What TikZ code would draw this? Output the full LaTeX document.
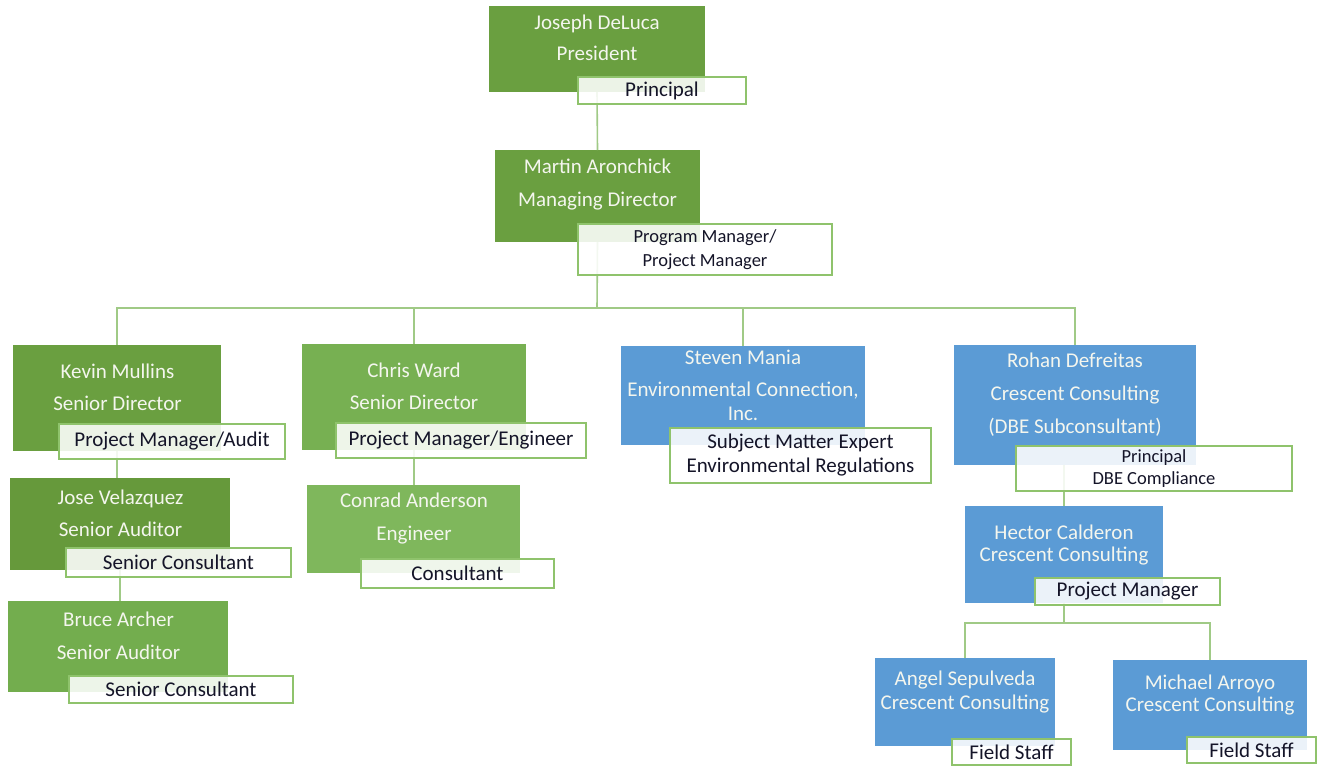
\documentclass[tikz,border=0pt]{standalone}
\usepackage{fontspec}
\setmainfont{Carlito}
\definecolor{gA}{HTML}{6A9F40}
\definecolor{gB}{HTML}{66993B}
\definecolor{gC}{HTML}{73AD4E}
\definecolor{gD}{HTML}{77B052}
\definecolor{gE}{HTML}{7FB75C}
\definecolor{bA}{HTML}{5B9BD5}
\definecolor{lineC}{HTML}{A0CA86}
\definecolor{labC}{HTML}{8FC36C}
\definecolor{boxT}{HTML}{F4F6EE}
\definecolor{labT}{HTML}{141428}
\begin{document}
\begin{tikzpicture}[x=1pt,y=-1pt,
  box/.style={rectangle, draw=none, inner sep=0pt, outer sep=0pt},
  lab/.style={rectangle, draw=labC, line width=1.6pt, fill=white, fill opacity=0.88, text opacity=1, inner sep=0pt, outer sep=0pt, text=labT, align=center, font=\fontsize{21}{24}\selectfont},
  btxt/.style={text=boxT, align=center, inner sep=0pt},
  conn/.style={draw=lineC, line width=1.6pt}]
\useasboundingbox (0,0) rectangle (1319,766);
\fill[white] (0,0) rectangle (1319,766);

% boxes
\node[box, fill=gA, minimum width=216, minimum height=86] (jd) at (597,49) {};
\node[box, fill=gA, minimum width=205, minimum height=92] (ma) at (597.5,196) {};
\node[box, fill=gA, minimum width=208, minimum height=106] (km) at (117,398) {};
\node[box, fill=gB, minimum width=220, minimum height=92] (jv) at (120,524) {};
\node[box, fill=gC, minimum width=220, minimum height=91] (ba) at (118,646.5) {};
\node[box, fill=gD, minimum width=224, minimum height=106] (cw) at (414,397) {};
\node[box, fill=gE, minimum width=213, minimum height=88] (ca) at (413.5,529) {};
\node[box, fill=bA, minimum width=244, minimum height=99] (sm) at (743,395.5) {};
\node[box, fill=bA, minimum width=242, minimum height=120] (rd) at (1075,405) {};
\node[box, fill=bA, minimum width=198, minimum height=97] (hc) at (1064,554.5) {};
\node[box, fill=bA, minimum width=180, minimum height=88] (as) at (965,702) {};
\node[box, fill=bA, minimum width=194, minimum height=90] (mar) at (1210,705) {};

% connectors
\coordinate (bus) at (597,308);
\coordinate (hbus) at (1064,623);
\draw[conn] (jd.south) -- (ma.north);
\draw[conn] (ma.south) -- (bus);
\draw[conn] (bus) -| (km.north);
\draw[conn] (bus) -| (cw.north);
\draw[conn] (bus) -| (sm.north);
\draw[conn] (bus) -| (rd.north);
\draw[conn] (km.south) -- (km.south |- jv.north);
\draw[conn] (jv.south) -- (jv.south |- ba.north);
\draw[conn] (cw.south) -- (cw.south |- ca.north);
\draw[conn] (hc.north |- rd.south) -- (hc.north);
\draw[conn] (hc.south) -- (hbus);
\draw[conn] (hbus) -| (as.north);
\draw[conn] (hbus) -| (mar.north);

% box texts
\node[btxt, font=\fontsize{21}{31}\selectfont] (jdt) at (597,37.5) {Joseph DeLuca\\President};
\node[btxt, font=\fontsize{21}{33}\selectfont] (mat) at (597.5,184.5) {Martin Aronchick\\Managing Director};
\node[btxt, font=\fontsize{21}{32}\selectfont] (kmt) at (117.5,387) {Kevin Mullins\\Senior Director};
\node[btxt, font=\fontsize{21}{32}\selectfont] (jvt) at (120.5,513) {Jose Velazquez\\Senior Auditor};
\node[btxt, font=\fontsize{21}{33}\selectfont] (bat) at (118.5,635.5) {Bruce Archer\\Senior Auditor};
\node[btxt, font=\fontsize{21}{32}\selectfont] (cwt) at (414,386) {Chris Ward\\Senior Director};
\node[btxt, font=\fontsize{21}{33}\selectfont] (cat) at (414,518.5) {Conrad Anderson\\Engineer};
\node[btxt, font=\fontsize{21}{28}\selectfont] (smt) at (743,385) {Steven Mania\\[4pt]Environmental Connection,\\[-4pt]Inc.};
\node[btxt, font=\fontsize{21}{33}\selectfont] (rdt) at (1075,395) {Rohan Defreitas\\Crescent Consulting\\(DBE Subconsultant)};
\node[btxt, font=\fontsize{21}{22}\selectfont] (hct) at (1064,545) {Hector Calderon\\Crescent Consulting};
\node[btxt, font=\fontsize{21}{24}\selectfont] (ast) at (965,692) {Angel Sepulveda\\Crescent Consulting};
\node[btxt, font=\fontsize{21}{22}\selectfont] (mart) at (1210,695) {Michael Arroyo\\Crescent Consulting};

% role labels
\node[lab, minimum width=168, minimum height=27] (jdl) at (662,90.5) {Principal};
\node[lab, minimum width=254, minimum height=51, font=\fontsize{18.5}{24}\selectfont] (mal) at (705,249.5) {Program Manager/\\Project Manager};
\node[lab, minimum width=226, minimum height=35] (kml) at (172,441.5) {Project Manager/Audit};
\node[lab, minimum width=225, minimum height=29] (jvl) at (178.5,562.5) {Senior Consultant};
\node[lab, minimum width=224, minimum height=27] (bal) at (181,689.5) {Senior Consultant};
\node[lab, minimum width=250, minimum height=35] (cwl) at (461,440.5) {Project Manager/Engineer};
\node[lab, minimum width=193, minimum height=29] (cal) at (457.5,573.5) {Consultant};
\node[lab, minimum width=261, minimum height=55] (sml) at (800.5,455.5) {Subject Matter Expert\\Environmental Regulations};
\node[lab, minimum width=276, minimum height=45, font=\fontsize{18.5}{22}\selectfont] (rdl) at (1154,468.5) {Principal\\DBE Compliance};
\node[lab, minimum width=185, minimum height=27] (hcl) at (1127.5,591.5) {Project Manager};
\node[lab, minimum width=119, minimum height=26] (asl) at (1011.5,752) {Field Staff};
\node[lab, minimum width=129, minimum height=26] (marl) at (1251.5,750) {Field Staff};
\end{tikzpicture}
\end{document}
